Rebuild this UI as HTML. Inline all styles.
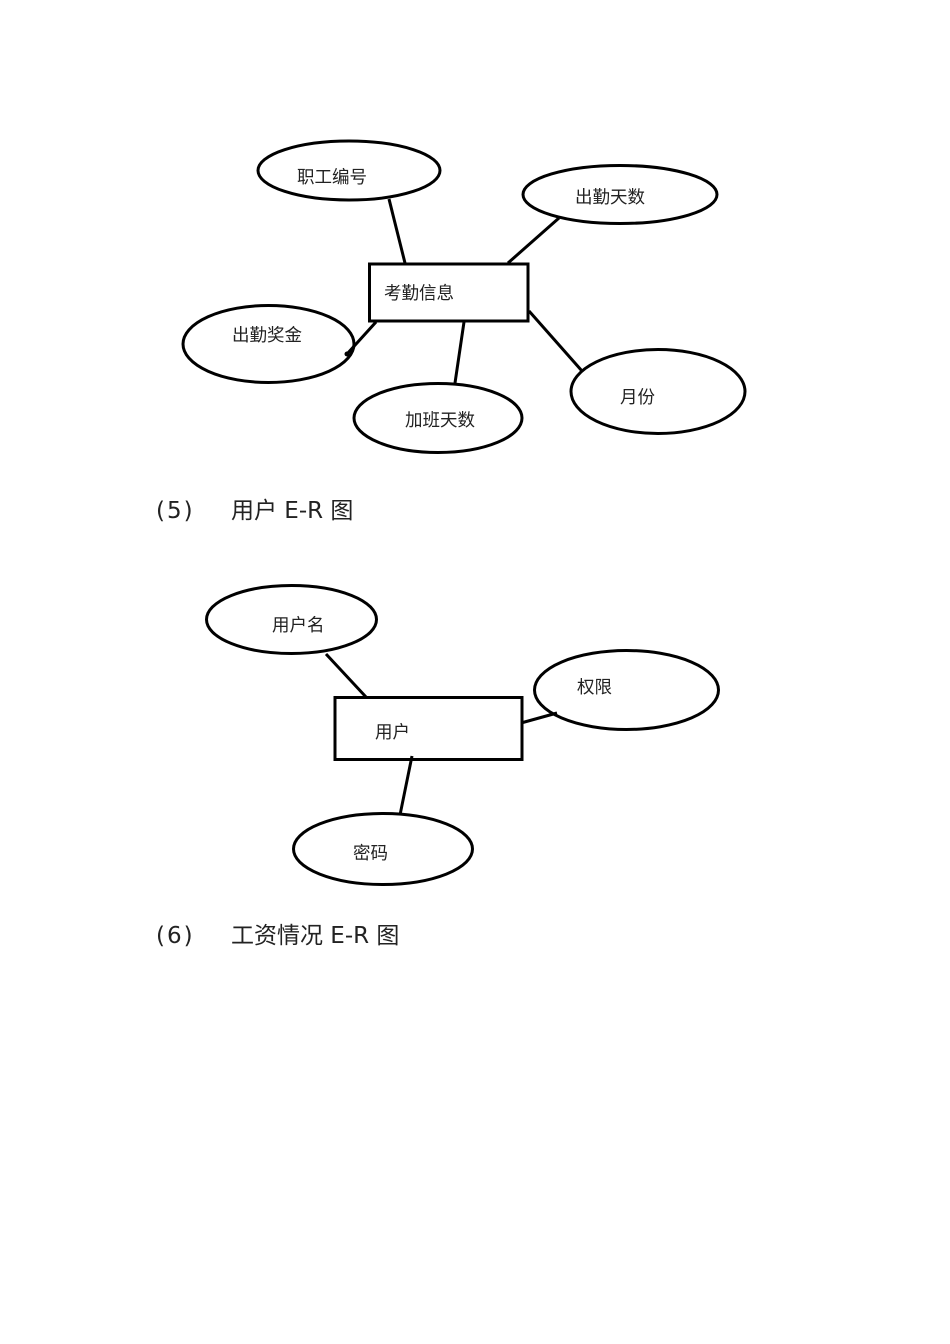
<!DOCTYPE html>
<html>
<head>
<meta charset="utf-8">
<style>
  html,body{margin:0;padding:0;background:#fff;}
  svg{display:block;}
  .lbl{font-family:"Liberation Sans","Noto Sans CJK SC",sans-serif;font-size:17.5px;fill:#222;}
  .hd{font-family:"DejaVu Sans","Noto Sans CJK SC",sans-serif;font-size:23px;fill:#222;}
</style>
</head>
<body>
<svg width="950" height="1344" viewBox="0 0 950 1344" xmlns="http://www.w3.org/2000/svg">
  <g fill="none" stroke="#000" stroke-width="3">
    <!-- Diagram 1 -->
    <rect x="369.5" y="264" width="158.5" height="57"/>
    <ellipse cx="349" cy="170.5" rx="91" ry="29.5"/>
    <ellipse cx="620" cy="194.5" rx="97" ry="29"/>
    <ellipse cx="268.5" cy="344" rx="85.5" ry="38.5"/>
    <ellipse cx="438" cy="418" rx="84" ry="34.5"/>
    <ellipse cx="658" cy="391.5" rx="87" ry="42"/>
    <line x1="389" y1="199" x2="405" y2="263"/>
    <line x1="559" y1="218" x2="508" y2="263"/>
    <line x1="376" y1="322" x2="347" y2="354"/>
    <line x1="464" y1="322" x2="455" y2="383"/>
    <line x1="529" y1="311" x2="582" y2="371"/>
    <!-- Diagram 2 -->
    <rect x="335" y="697.5" width="187" height="62"/>
    <ellipse cx="291.5" cy="619.5" rx="85" ry="34"/>
    <ellipse cx="626.5" cy="690" rx="92" ry="39.5"/>
    <ellipse cx="383" cy="849" rx="89.5" ry="35.5"/>
    <line x1="326" y1="654" x2="366" y2="697"/>
    <line x1="521" y1="723" x2="557" y2="713"/>
    <line x1="412" y1="756" x2="400" y2="815"/>
  </g>
  <circle cx="347" cy="354" r="2.5" fill="#000"/>

  <!-- Diagram 1 labels -->
  <text class="lbl" x="297" y="183">职工编号</text>
  <text class="lbl" x="575" y="203">出勤天数</text>
  <text class="lbl" x="384" y="299">考勤信息</text>
  <text class="lbl" x="232" y="341">出勤奖金</text>
  <text class="lbl" x="405" y="426">加班天数</text>
  <text class="lbl" x="620" y="403">月份</text>

  <!-- Heading 5 -->
  <text class="hd" x="156" y="518" letter-spacing="2">(5)</text>
  <text class="hd" x="231" y="518">用户 E-R 图</text>

  <!-- Diagram 2 labels -->
  <text class="lbl" x="272" y="631">用户名</text>
  <text class="lbl" x="375" y="738">用户</text>
  <text class="lbl" x="577" y="693">权限</text>
  <text class="lbl" x="353" y="859">密码</text>

  <!-- Heading 6 -->
  <text class="hd" x="156" y="943" letter-spacing="2">(6)</text>
  <text class="hd" x="231" y="943">工资情况 E-R 图</text>
</svg>
</body>
</html>
